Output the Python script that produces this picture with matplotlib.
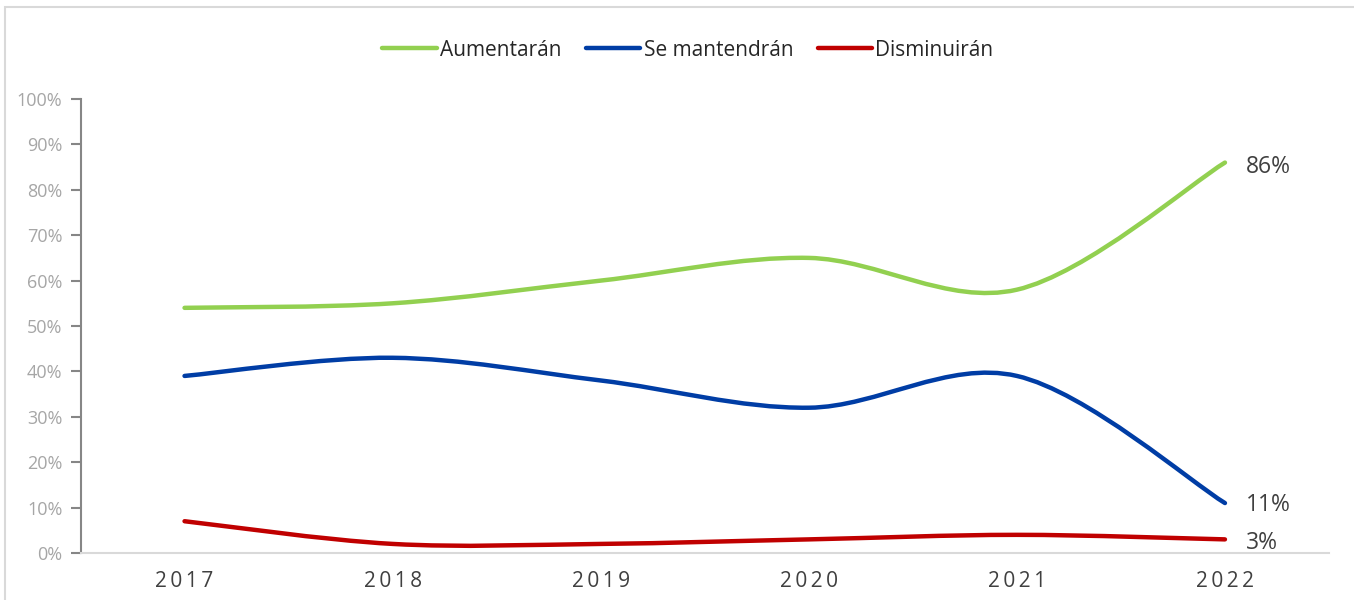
import matplotlib
matplotlib.use("Agg")
import matplotlib.pyplot as plt
from matplotlib.path import Path
from matplotlib.patches import PathPatch, Rectangle
from matplotlib.lines import Line2D

years = ["2017", "2018", "2019", "2020", "2021", "2022"]
aumentaran = [54, 55, 60, 65, 58, 86]
se_mantendran = [39, 43, 38, 32, 39, 11]
disminuiran = [7, 2, 2, 3, 4, 3]

series = [
    ("Aumentarán", aumentaran, "#92d050"),
    ("Se mantendrán", se_mantendran, "#003da5"),
    ("Disminuirán", disminuiran, "#c00000"),
]

plt.rcParams["font.family"] = ["Open Sans", "DejaVu Sans"]


def smooth_path(xs, ys):
    # Excel-like smoothed line: cubic Bezier through every data point
    pts = list(zip(xs, ys))
    n = len(pts)
    verts = [pts[0]]
    codes = [Path.MOVETO]
    for i in range(n - 1):
        p0 = pts[max(i - 1, 0)]
        p1 = pts[i]
        p2 = pts[i + 1]
        p3 = pts[min(i + 2, n - 1)]
        c1 = (p1[0] + (p2[0] - p0[0]) / 6, p1[1] + (p2[1] - p0[1]) / 6)
        c2 = (p2[0] - (p3[0] - p1[0]) / 6, p2[1] - (p3[1] - p1[1]) / 6)
        verts += [c1, c2, p2]
        codes += [Path.CURVE4] * 3
    return Path(verts, codes)


fig = plt.figure(figsize=(13.54, 6), dpi=100)
fig.patches.append(Rectangle((5 / 1354, -0.1), 1.2, 1 - 6.5 / 600 + 0.1,
                             transform=fig.transFigure, fill=False,
                             edgecolor="#d9d9d9", linewidth=1.5))
ax = fig.add_axes([80.5 / 1354, 1 - 553 / 600, (1329 - 80.5) / 1354, (553 - 99) / 600])

x = list(range(len(years)))
label_dy = {"Disminuirán": -0.008, "Se mantendrán": -0.005, "Aumentarán": -0.01}
for name, vals, color in series:
    ys = [v / 100 for v in vals]
    ax.add_patch(PathPatch(smooth_path(x, ys), facecolor="none", edgecolor=color,
                           linewidth=3.2, capstyle="round", joinstyle="round"))
    ax.text(x[-1] + 0.1, ys[-1] + label_dy[name], f"{vals[-1]}%", fontsize=16.5,
            color="#404040", va="center", ha="left")

ax.set_xlim(-0.5, len(years) - 0.5)
ax.set_ylim(0, 1)
ax.set_yticks([i / 10 for i in range(11)])
ax.set_yticklabels([f"{i * 10}%" for i in range(11)])
ax.set_xticks(x)
ax.set_xticklabels(["\u2009".join(y) for y in years])

for s in ("top", "right"):
    ax.spines[s].set_visible(False)
ax.spines["left"].set_color("#868686")
ax.spines["left"].set_linewidth(1.5)
ax.spines["bottom"].set_color("#d9d9d9")
ax.spines["bottom"].set_linewidth(1.5)
ax.tick_params(axis="y", length=7, width=1.5, color="#868686", labelsize=13,
               labelcolor="#a6a6a6", pad=6)
ax.tick_params(axis="x", length=0, labelsize=15, labelcolor="#404040", pad=13)

handles = [Line2D([0], [0], color=c, linewidth=3.2, solid_capstyle="round")
           for _, _, c in series]
fig.legend(handles, [n for n, _, _ in series], loc="center",
           bbox_to_anchor=(688 / 1354, 1 - 50 / 600), ncol=3, frameon=False,
           fontsize=15, labelcolor="#262626", handlelength=2.6,
           handletextpad=0.15, columnspacing=1.2)

fig.savefig("out.png", dpi=100)
